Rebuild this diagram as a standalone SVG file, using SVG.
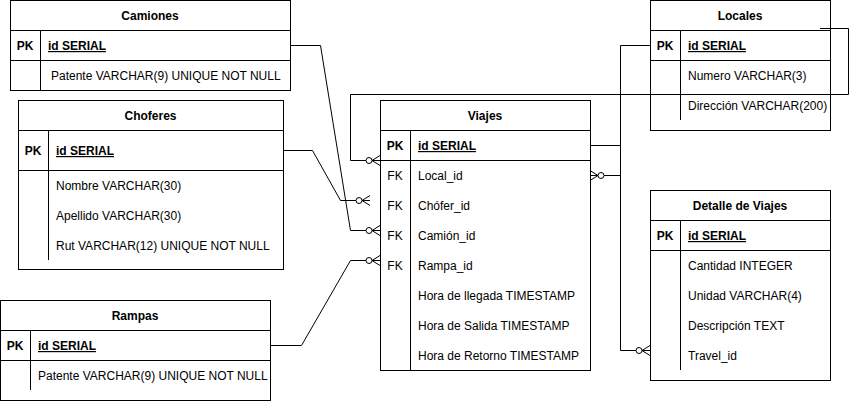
<svg xmlns="http://www.w3.org/2000/svg" width="858" height="401" viewBox="0 0 858 401">
<style>
.box{fill:#fff;stroke:#000;stroke-width:1}
.ln{stroke:#000;stroke-width:1;fill:none}
text{font-family:"Liberation Sans",Arial,sans-serif;font-size:12px;fill:#000}
.t{font-weight:bold;text-anchor:middle}
.pk{font-weight:bold;text-anchor:middle}
.fk{text-anchor:middle}
.id{font-weight:bold;text-decoration:underline}
.c{stroke:#000;stroke-width:1;fill:none}
</style>
<defs>
<marker id="zm" markerUnits="userSpaceOnUse" orient="auto" viewBox="-16 -8 18 16" markerWidth="18" markerHeight="16" refX="0" refY="0" overflow="visible">
<path d="M-8,0 L0,-5 M-8,0 L0,0 M-8,0 L0,5" stroke="#000" stroke-width="1" fill="none"/>
<circle cx="-11" cy="0" r="3" fill="#fff" stroke="#000" stroke-width="1"/>
</marker>
</defs>
<rect width="858" height="401" fill="#fff"/>

<g id="camiones">
<rect class="box" x="10.5" y="0.5" width="280" height="90"/>
<path class="ln" d="M10,30.5H290M10,60.5H290M40.5,30V90"/>
<text class="t" x="150" y="20">Camiones</text>
<text class="pk" x="25" y="50">PK</text>
<text class="id" x="48" y="50">id SERIAL</text>
<text x="51" y="80">Patente VARCHAR(9) UNIQUE NOT NULL</text>
</g>

<g id="choferes">
<rect class="box" x="18.5" y="100.5" width="265" height="169"/>
<path class="ln" d="M18,130.5H283M18,170.5H283M48.5,130V260"/>
<text class="t" x="150.5" y="120">Choferes</text>
<text class="pk" x="33" y="155">PK</text>
<text class="id" x="56" y="155">id SERIAL</text>
<text x="56" y="190">Nombre VARCHAR(30)</text>
<text x="56" y="220">Apellido VARCHAR(30)</text>
<text x="56" y="250">Rut VARCHAR(12) UNIQUE NOT NULL</text>
</g>

<g id="rampas">
<rect class="box" x="0.5" y="300.5" width="270" height="100"/>
<path class="ln" d="M0,330.5H270M0,360.5H270M30.5,330V390"/>
<text class="t" x="135" y="320">Rampas</text>
<text class="pk" x="15" y="350">PK</text>
<text class="id" x="38" y="350">id SERIAL</text>
<text x="38" y="380">Patente VARCHAR(9) UNIQUE NOT NULL</text>
</g>

<g id="viajes">
<rect class="box" x="380.5" y="100.5" width="210" height="270"/>
<path class="ln" d="M380,130.5H590M380,160.5H590M410.5,130V370"/>
<text class="t" x="485" y="120">Viajes</text>
<text class="pk" x="395" y="150">PK</text>
<text class="id" x="418" y="150">id SERIAL</text>
<text class="fk" x="395" y="180">FK</text>
<text x="418" y="180">Local_id</text>
<text class="fk" x="395" y="210">FK</text>
<text x="418" y="210">Chófer_id</text>
<text class="fk" x="395" y="240">FK</text>
<text x="418" y="240">Camión_id</text>
<text class="fk" x="395" y="270">FK</text>
<text x="418" y="270">Rampa_id</text>
<text x="418" y="300">Hora de llegada TIMESTAMP</text>
<text x="418" y="330">Hora de Salida TIMESTAMP</text>
<text x="418" y="360">Hora de Retorno TIMESTAMP</text>
</g>

<g id="locales">
<rect class="box" x="650.5" y="0.5" width="180" height="130"/>
<path class="ln" d="M650,30.5H830M650,60.5H830M680.5,30V120"/>
<text class="t" x="740" y="20">Locales</text>
<text class="pk" x="665" y="50">PK</text>
<text class="id" x="688" y="50">id SERIAL</text>
<text x="688" y="80">Numero VARCHAR(3)</text>
<text x="688" y="110">Dirección VARCHAR(200)</text>
</g>

<g id="detalle">
<rect class="box" x="650.5" y="190.5" width="180" height="190"/>
<path class="ln" d="M650,220.5H830M650,250.5H830M680.5,220V370"/>
<text class="t" x="740" y="210">Detalle de Viajes</text>
<text class="pk" x="665" y="240">PK</text>
<text class="id" x="688" y="240">id SERIAL</text>
<text x="688" y="270">Cantidad INTEGER</text>
<text x="688" y="300">Unidad VARCHAR(4)</text>
<text x="688" y="330">Descripción TEXT</text>
<text x="688" y="360">Travel_id</text>
</g>

<g id="connectors">
<path class="c" d="M290,45.5H320.5L350.5,230.5H380" marker-end="url(#zm)"/>
<path class="c" d="M283,150.5H312.5L340.5,200.5H370" marker-end="url(#zm)"/>
<path class="c" d="M270,345.5H301.5L350.5,260.5H380" marker-end="url(#zm)"/>
<path class="c" d="M820,28.5H848.5V94.5H350.5V160.5H380" marker-end="url(#zm)"/>
<path class="c" d="M650,45.5H620.5V175.5H590" marker-end="url(#zm)"/>
<path class="c" d="M590,145.5H620.5V350.5H650" marker-end="url(#zm)"/>
</g>
</svg>
